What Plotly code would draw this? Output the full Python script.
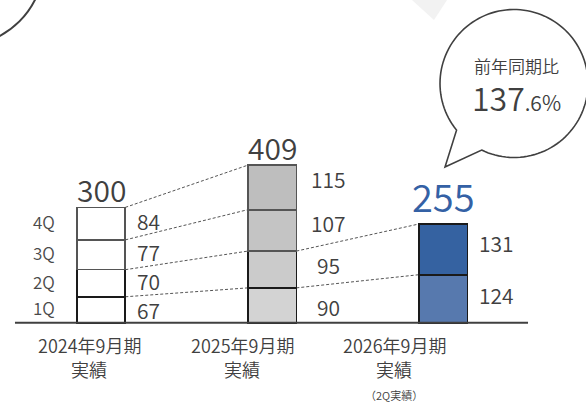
import math
import plotly.graph_objects as go

# ---------------- data ----------------
categories = ["2024年9月期", "2025年9月期", "2026年9月期"]
cat_line2 = ["実績", "実績", "実績"]
cat_note = ["", "", "（2Q実績）"]
quarters = ["1Q", "2Q", "3Q", "4Q"]
q1 = [67, 90, 124]
q2 = [70, 95, 131]
q3 = [77, 107, None]
q4 = [84, 115, None]
totals = [300, 409, 255]
yoy_label = "前年同期比"
yoy_main = "137"
yoy_frac = ".6%"

# ---------------- style ----------------
W, H = 586, 402
FONT = "Noto Sans CJK JP"
TXT = "#404040"
BLUE = "#3461A5"
fills = {
    "1Q": ["#FFFFFF", "#D3D3D3", "#5779AE"],
    "2Q": ["#FFFFFF", "#CBCBCB", "#3562A1"],
    "3Q": ["#FFFFFF", "#C4C4C4", "#FFFFFF"],
    "4Q": ["#FFFFFF", "#BEBEBE", "#FFFFFF"],
}
edge = {"1Q": "#1A1A1A", "2Q": "#1A1A1A", "3Q": "#555555", "4Q": "#555555"}
BAR_W = 0.284
# pixel nudges of the value labels (per bar, per quarter 1Q..4Q)
label_nudge = [[0, 2, 3, 3], [-2, 5, 7, 8], [4, 6]]


def px(x):
    return x / W


def py(y):
    return 1 - y / H


def f(size, color=TXT):
    return dict(family=FONT, size=size, color=color, weight=350)


xs = list(range(len(categories)))
series = {"1Q": q1, "2Q": q2, "3Q": q3, "4Q": q4}

fig = go.Figure()
for q in quarters:
    fig.add_trace(go.Bar(
        x=xs, y=series[q], width=BAR_W, name=q,
        marker=dict(color=fills[q], line=dict(color=edge[q], width=1.6)),
        hoverinfo="skip", showlegend=False,
    ))

# cumulative tops
cum = []
for i in xs:
    run, tops = 0, []
    for q in quarters:
        v = series[q][i]
        if v is None:
            break
        run += v
        tops.append((run - v / 2, run, v))
    cum.append(tops)

shapes = []
# baseline
shapes.append(dict(type="line", xref="x", yref="y", x0=-0.503, x1=2.497, y0=0, y1=0,
                   line=dict(color=TXT, width=2)))
# dotted connectors
for i in range(len(xs) - 1):
    n = min(len(cum[i]), len(cum[i + 1]))
    for k in range(n):
        shapes.append(dict(type="line", xref="x", yref="y",
                           x0=xs[i] + BAR_W / 2, y0=cum[i][k][1],
                           x1=xs[i + 1] - BAR_W / 2, y1=cum[i + 1][k][1],
                           line=dict(color="#555555", width=1, dash="3px,2px"), layer="below"))

# background light triangle
shapes.append(dict(type="path", xref="paper", yref="paper",
                   path=f"M {px(412)} {py(0)} L {px(434)} {py(20)} L {px(447)} {py(0)} Z",
                   fillcolor="#F2F2F2", line=dict(width=0), layer="below"))

# top-left circle
cx, cy, r = -40, -38, 84
shapes.append(dict(type="circle", xref="paper", yref="paper",
                   x0=px(cx - r), x1=px(cx + r), y0=py(cy + r), y1=py(cy - r),
                   line=dict(color=TXT, width=2)))

# speech bubble
bcx, bcy, br = 514, 83.5, 74
a0 = math.degrees(math.atan2(150 - bcy, 481.7 - bcx))
a1 = math.degrees(math.atan2(130 - bcy, 456.7 - bcx)) - 360
pts = []
N = 120
for j in range(N + 1):
    a = math.radians(a0 + (a1 - a0) * j / N)
    pts.append((bcx + br * math.cos(a), bcy + br * math.sin(a)))
pts.append((445, 167))
path = "M " + " L ".join(f"{px(x):.5f} {py(y):.5f}" for x, y in pts) + " Z"
shapes.append(dict(type="path", xref="paper", yref="paper", path=path,
                   fillcolor="white", line=dict(color=TXT, width=1.6)))

ann = []
# value labels
val_xshift = [47, 56, 53]
for i in xs:
    for k, (mid, top, v) in enumerate(cum[i]):
        ann.append(dict(x=xs[i], y=mid, xref="x", yref="y", text=str(v), showarrow=False,
                        xanchor="center", yanchor="middle", xshift=val_xshift[i],
                        yshift=label_nudge[i][k], font=f(21)))
# totals
tot_size = [30, 30, 38]
tot_col = [TXT, TXT, BLUE]
tot_shift = [18, 18, 29]
for i in xs:
    ann.append(dict(x=xs[i], y=cum[i][-1][1], xref="x", yref="y", text=str(totals[i]),
                    showarrow=False, xanchor="center", yanchor="middle", yshift=tot_shift[i],
                    font=f(tot_size[i], tot_col[i])))
# quarter labels next to first bar
for k, q in enumerate(quarters):
    ann.append(dict(x=xs[0], y=cum[0][k][0], xref="x", yref="y", text=q, showarrow=False,
                    xanchor="right", yanchor="middle", xshift=-44, yshift=2,
                    font=f(17, "#4A4A4A")))
# category labels
cat_px = [89, 242, 394]
for i in xs:
    ann.append(dict(x=px(cat_px[i]), y=py(345), xref="paper", yref="paper",
                    text=categories[i],
                    showarrow=False, xanchor="center", yanchor="middle",
                    font=f(18)))
    ann.append(dict(x=px(cat_px[i]), y=py(369), xref="paper", yref="paper",
                    text=cat_line2[i],
                    showarrow=False, xanchor="center", yanchor="middle",
                    font=f(18)))
    if cat_note[i]:
        ann.append(dict(x=px(cat_px[i]), y=py(395), xref="paper", yref="paper", text=cat_note[i],
                        showarrow=False, xanchor="center", yanchor="middle",
                        font=f(11)))
# bubble text
ann.append(dict(x=px(516), y=py(65), xref="paper", yref="paper", text=yoy_label,
                showarrow=False, xanchor="center", yanchor="middle",
                font=f(17)))
ann.append(dict(x=px(516), y=py(97.5), xref="paper", yref="paper",
                text=f"{yoy_main}<span style='font-size:21px'>{yoy_frac}</span>",
                showarrow=False, xanchor="center", yanchor="middle",
                font=f(32)))

fig.update_layout(
    width=W, height=H, margin=dict(l=0, r=0, t=0, b=0),
    paper_bgcolor="white", plot_bgcolor="white",
    barmode="stack", showlegend=False,
    xaxis=dict(visible=False, range=[-0.5906, 2.836], fixedrange=True),
    yaxis=dict(visible=False, range=[-204.9, 833.9], fixedrange=True),
    shapes=shapes, annotations=ann,
)
fig.write_html("out.html")
